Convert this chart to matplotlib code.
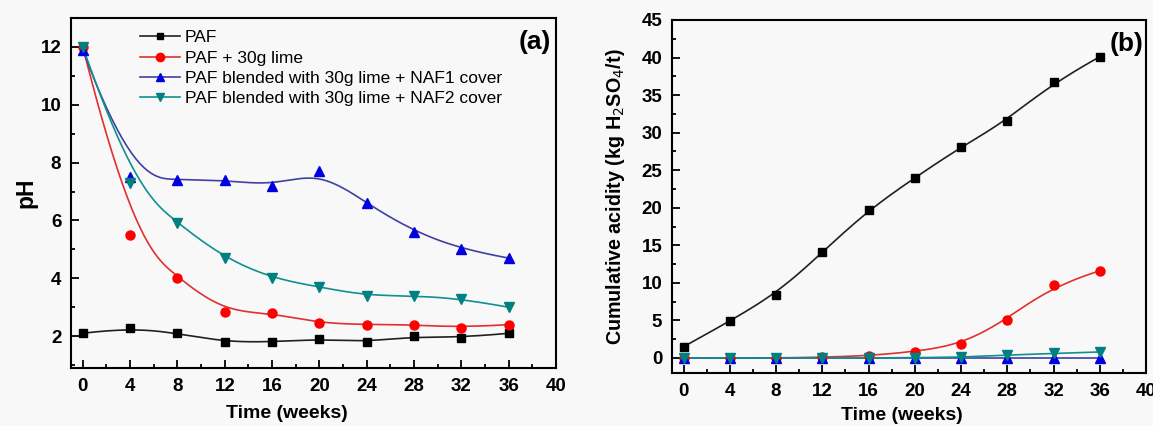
import numpy as np
import matplotlib
matplotlib.use("Agg")
import matplotlib.pyplot as plt
from matplotlib.ticker import MultipleLocator

weeks = [0, 4, 8, 12, 16, 20, 24, 28, 32, 36]
labels = ["PAF", "PAF + 30g lime",
          "PAF blended with 30g lime + NAF1 cover",
          "PAF blended with 30g lime + NAF2 cover"]

ph_paf = [2.1, 2.3, 2.1, 1.8, 1.8, 1.9, 1.8, 2.0, 1.95, 2.1]
ph_lime = [12.0, 5.5, 4.0, 2.85, 2.8, 2.45, 2.4, 2.4, 2.3, 2.4]
ph_naf1 = [11.9, 7.5, 7.4, 7.4, 7.2, 7.7, 6.6, 5.6, 5.0, 4.7]
ph_naf2 = [12.0, 7.3, 5.9, 4.7, 4.0, 3.7, 3.4, 3.4, 3.3, 3.0]

ac_paf = [1.5, 4.9, 8.4, 14.1, 19.7, 24.0, 28.1, 31.6, 36.7, 40.1]
ac_lime = [0.0, 0.0, 0.0, 0.1, 0.3, 0.85, 1.8, 5.1, 9.7, 11.6]
ac_naf1 = [0.0, 0.0, 0.0, 0.0, 0.0, 0.0, 0.0, 0.0, 0.0, 0.0]
ac_naf2 = [0.0, 0.0, 0.0, 0.0, 0.0, 0.05, 0.1, 0.4, 0.6, 0.8]

line_colors = ["#202020", "#e03030", "#4040a0", "#109090"]
marker_colors = ["#000000", "#ff0000", "#0000e0", "#008080"]
markers = ["s", "o", "^", "v"]
msizes = [5.5, 6.5, 6.5, 6.5]

plt.rcParams['font.family'] = ['Liberation Sans', 'DejaVu Sans']


def bspline(x, y, n=300):
    """Clamped uniform cubic B-spline using the data points as control points."""
    P = np.column_stack([x, y]).astype(float)
    m = len(P)
    k = 3
    inner = np.arange(1, m - k)
    t = np.concatenate([[0] * (k + 1), inner, [m - k] * (k + 1)]).astype(float)
    u = np.linspace(0, m - k, n)
    u[-1] -= 1e-9

    def N(i, p, uu):
        if p == 0:
            return ((t[i] <= uu) & (uu < t[i + 1])).astype(float)
        a = np.zeros_like(uu)
        b = np.zeros_like(uu)
        if t[i + p] != t[i]:
            a = (uu - t[i]) / (t[i + p] - t[i]) * N(i, p - 1, uu)
        if t[i + p + 1] != t[i + 1]:
            b = (t[i + p + 1] - uu) / (t[i + p + 1] - t[i + 1]) * N(i + 1, p - 1, uu)
        return a + b

    B = np.array([N(i, k, u) for i in range(m)])
    C = B.T @ P
    return C[:, 0], C[:, 1]


fig = plt.figure(figsize=(11.53, 4.26), dpi=100, facecolor="#f8f8f8")
ax1 = fig.add_axes([71 / 1153, 1 - 368 / 426, (556 - 71) / 1153, (368 - 18) / 426])
ax2 = fig.add_axes([672 / 1153, 1 - 373 / 426, (1146 - 672) / 1153, (373 - 20) / 426])

for ax, series in [(ax1, [ph_paf, ph_lime, ph_naf1, ph_naf2]),
                   (ax2, [ac_paf, ac_lime, ac_naf1, ac_naf2])]:
    ax.set_facecolor("#f8f8f8")
    for i, ys in enumerate(series):
        sx, sy = bspline(weeks, ys)
        ax.plot(sx, sy, color=line_colors[i], lw=1.2, zorder=2)
        ax.plot(weeks, ys, linestyle="none", marker=markers[i], ms=msizes[i],
                color=marker_colors[i], zorder=3)
    ax.set_xlim(-1, 40)
    ax.xaxis.set_major_locator(MultipleLocator(4))
    ax.xaxis.set_minor_locator(MultipleLocator(2))
    ax.tick_params(which="both", direction="in", top=False, right=False, width=1.3)
    ax.tick_params(which="major", length=6, labelsize=13.5, pad=7)
    ax.tick_params(which="minor", length=3)
    for s in ax.spines.values():
        s.set_linewidth(1.5)

ax1.set_ylim(0.9, 13.0)
ax1.yaxis.set_major_locator(MultipleLocator(2))
ax1.yaxis.set_minor_locator(MultipleLocator(1))
ax1.set_xlabel("Time (weeks)", fontsize=14, fontweight="bold")
ax1.xaxis.set_label_coords(0.445, -0.105)
ax1.set_ylabel("pH", fontsize=16.5, fontweight="bold")
ax1.yaxis.set_label_coords(-0.07, 0.5)
for lab in ax1.get_xticklabels() + ax1.get_yticklabels():
    lab.set_fontweight("bold")
ax1.text(0.99, 0.965, "(a)", transform=ax1.transAxes, ha="right", va="top",
         fontsize=19, fontweight="bold")

handles = []
for i in range(4):
    h, = ax1.plot([], [], color=line_colors[i], lw=1.2, marker=markers[i],
                  ms=msizes[i] - 0.5, mfc=marker_colors[i], mec=marker_colors[i])
    handles.append(h)
ax1.legend(handles, labels, loc="upper left", bbox_to_anchor=(0.142, 0.965),
           frameon=False, fontsize=12.5, handlelength=2.3, handletextpad=0.3,
           labelspacing=0.3, borderaxespad=0.0, borderpad=0.0)

ax2.set_ylim(-2, 45)
ax2.yaxis.set_major_locator(MultipleLocator(5))
ax2.yaxis.set_minor_locator(MultipleLocator(2.5))
ax2.set_xlabel("Time (weeks)", fontsize=14, fontweight="bold")
ax2.xaxis.set_label_coords(0.485, -0.096)
ax2.set_ylabel("Cumulative acidity (kg H$_2$SO$_4$/t)", fontsize=14.2,
               fontweight="bold")
ax2.yaxis.set_label_coords(-0.095, 0.5)
for lab in ax2.get_xticklabels() + ax2.get_yticklabels():
    lab.set_fontweight("bold")
ax2.text(0.995, 0.965, "(b)", transform=ax2.transAxes, ha="right", va="top",
         fontsize=19, fontweight="bold")

fig.savefig("out.png", dpi=100, facecolor=fig.get_facecolor())
